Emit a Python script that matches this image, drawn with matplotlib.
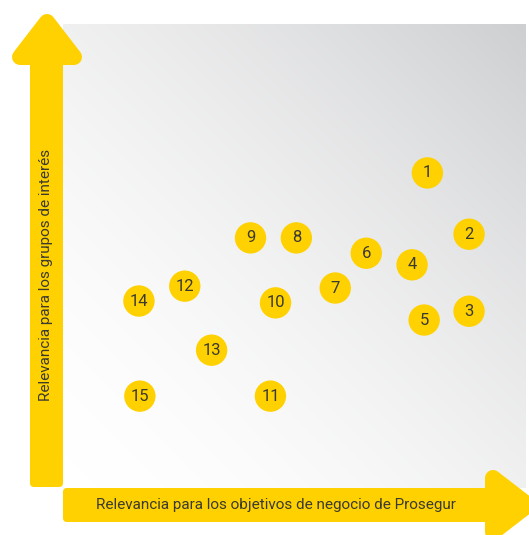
import numpy as np
import matplotlib
matplotlib.use("Agg")
import matplotlib.pyplot as plt
from matplotlib.patches import Polygon, FancyBboxPatch
from matplotlib.colors import LinearSegmentedColormap

# ---- data ----
labels = ["1", "2", "3", "4", "5", "6", "7", "8", "9", "10", "11", "12", "13", "14", "15"]
x_business = [7.87, 8.77, 8.77, 7.54, 7.80, 6.55, 5.88, 5.04, 4.05, 4.59, 4.48, 2.63, 3.21, 1.64, 1.66]
y_stakeholders = [6.79, 5.47, 3.81, 4.81, 3.62, 5.06, 4.31, 5.39, 5.39, 3.99, 1.98, 4.35, 2.97, 4.03, 1.98]
x_label = "Relevancia para los objetivos de negocio de Prosegur"
y_label = "Relevancia para los grupos de interés"

YELLOW = "#FFD100"
TEXT = "#3a3a30"
W, H = 529, 535

fig = plt.figure(figsize=(W / 100, H / 100), dpi=100)
fig.patch.set_facecolor("white")

# panel (data axes)
px0, py0, px1, py1 = 63, 24, 526, 488
ax = fig.add_axes([px0 / W, 1 - py1 / H, (px1 - px0) / W, (py1 - py0) / H])
ax.set_xlim(0, 10)
ax.set_ylim(0, 10)
ax.axis("off")

n = 300
gx, gy = np.meshgrid(np.linspace(0, 1, n), np.linspace(0, 1, n))
t = np.clip((gx + gy) / 2, 0, 1) ** 1.7
cmap = LinearSegmentedColormap.from_list("g", ["#ffffff", "#cecfd1"])
ax.imshow(t, extent=(0, 10, 0, 10), origin="lower", cmap=cmap, vmin=0, vmax=1,
          aspect="auto", interpolation="bilinear", zorder=0)

ax.scatter(x_business, y_stakeholders, s=510, color=YELLOW, edgecolors="none", zorder=2)
for lab, xv, yv in zip(labels, x_business, y_stakeholders):
    ax.text(xv, yv, lab, ha="center", va="center", fontsize=12, color=TEXT,
            family="Roboto", zorder=3)

# overlay for arrows (pixel coordinates)
ov = fig.add_axes([0, 0, 1, 1], facecolor="none")
ov.set_xlim(0, W)
ov.set_ylim(H, 0)
ov.axis("off")

r_px = 8
lw_head = 2 * r_px * 72 / 100
# vertical arrow
ov.add_patch(FancyBboxPatch((30, 58), 33, 429, boxstyle="round,pad=0,rounding_size=4",
                            fc=YELLOW, ec="none"))
ov.add_patch(Polygon([(20, 57), (74, 57), (47, 22)], closed=True, fc=YELLOW, ec=YELLOW,
                     lw=lw_head, joinstyle="round"))
# horizontal arrow
ov.add_patch(FancyBboxPatch((63, 488), 440, 34, boxstyle="round,pad=0,rounding_size=4",
                            fc=YELLOW, ec="none"))
ov.add_patch(Polygon([(493, 478), (493, 532), (528, 505)], closed=True, fc=YELLOW, ec=YELLOW,
                     lw=lw_head, joinstyle="round"))

ov.text(276, 505, x_label, ha="center", va="center", fontsize=11, color=TEXT,
        family="Roboto")
ov.text(46, 275, y_label, ha="center", va="center", rotation=90, fontsize=11, color=TEXT,
        family="Roboto")

fig.savefig("out.png", dpi=100)
